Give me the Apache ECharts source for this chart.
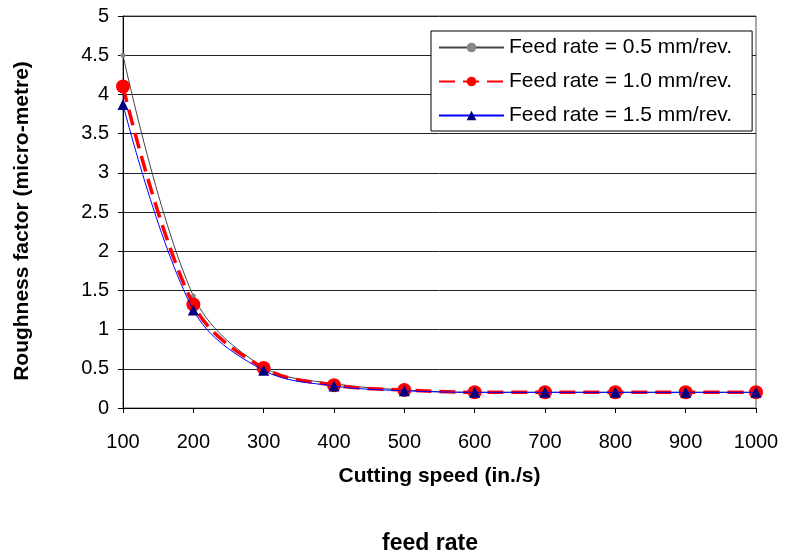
<!DOCTYPE html>
<html>
<head>
<meta charset="utf-8">
<script src="https://cdn.jsdelivr.net/npm/echarts@6/dist/echarts.min.js"></script>
<style>
  html, body { margin: 0; padding: 0; background: #fff; }
  #main { width: 785px; height: 554px; }
</style>
</head>
<body>
<div id="main"></div>
<script>
const speeds = ['100', '200', '300', '400', '500', '600', '700', '800', '900', '1000']
const feed05 = [4.5, 1.43, 0.52, 0.31, 0.23, 0.2, 0.2, 0.2, 0.2, 0.2]
const feed10 = [4.1, 1.32, 0.51, 0.29, 0.23, 0.2, 0.2, 0.2, 0.2, 0.2]
const feed15 = [3.87, 1.25, 0.48, 0.28, 0.22, 0.2, 0.2, 0.2, 0.2, 0.2]
const seriesNames = ['Feed rate = 0.5 mm/rev.', 'Feed rate = 1.0 mm/rev.', 'Feed rate = 1.5 mm/rev.']

const font = 'Liberation Sans, Arial, sans-serif'
const chart = echarts.init(document.getElementById('main'))

const option = {
  backgroundColor: '#fff',
  animation: false,
  title: {
    text: 'feed rate',
    left: 425,
    top: 527,
    textAlign: 'center',
    textStyle: { fontFamily: font, fontSize: 23, fontWeight: 'bold', color: '#000' }
  },
  legend: {
    orient: 'vertical',
    left: 431,
    top: 31,
    padding: [6, 20, 5, 7],
    itemGap: 13,
    itemWidth: 65,
    itemHeight: 12,
    backgroundColor: '#fff',
    borderColor: '#000',
    borderWidth: 1,
    data: seriesNames,
    textStyle: { fontFamily: font, fontSize: 21, color: '#000' }
  },
  grid: {
    left: 123,
    right: 29,
    top: 16,
    bottom: 146,
    show: true,
    borderColor: '#555',
    borderWidth: 1
  },
  xAxis: {
    type: 'category',
    boundaryGap: false,
    data: speeds,
    name: 'Cutting speed (in./s)',
    nameLocation: 'middle',
    nameGap: 58,
    nameTextStyle: { fontFamily: font, fontSize: 21, fontWeight: 'bold', color: '#000' },
    axisLine: { lineStyle: { color: '#000', width: 1 } },
    axisTick: { show: true, inside: false, length: 5, alignWithLabel: true, lineStyle: { color: '#000' } },
    axisLabel: { margin: 24, fontFamily: font, fontSize: 20, color: '#000' },
    splitLine: { show: false }
  },
  yAxis: {
    type: 'value',
    min: 0,
    max: 5,
    interval: 0.5,
    name: 'Roughness factor (micro-metre)',
    nameLocation: 'middle',
    nameGap: 90,
    nameTextStyle: { fontFamily: font, fontSize: 21, fontWeight: 'bold', color: '#000', padding: [0, 18, 0, 0] },
    axisLine: { show: true, lineStyle: { color: '#000', width: 1 } },
    axisTick: { show: true, length: 5, lineStyle: { color: '#000' } },
    axisLabel: { margin: 14, fontFamily: font, fontSize: 20, color: '#000' },
    splitLine: { show: true, lineStyle: { color: '#222', width: 1, type: 'solid' } }
  },
  series: [{
    name: seriesNames[0],
    type: 'line',
    smooth: 0.35,
    data: feed05,
    symbol: 'circle',
    symbolSize: 5,
    itemStyle: { color: '#888' },
    lineStyle: { color: '#444', width: 1 },
    z: 2
  }, {
    name: seriesNames[1],
    type: 'line',
    smooth: 0.35,
    data: feed10,
    symbol: 'circle',
    symbolSize: 14,
    itemStyle: { color: '#ff0000' },
    lineStyle: { color: '#ff0000', width: 3.5, type: [16, 8] },
    z: 3
  }, {
    name: seriesNames[2],
    type: 'line',
    smooth: 0.35,
    data: feed15,
    symbol: 'triangle',
    symbolSize: 11,
    itemStyle: { color: '#000080' },
    lineStyle: { color: '#0000ff', width: 1 },
    z: 4
  }]
}

chart.setOption(option)
</script>
</body>
</html>
